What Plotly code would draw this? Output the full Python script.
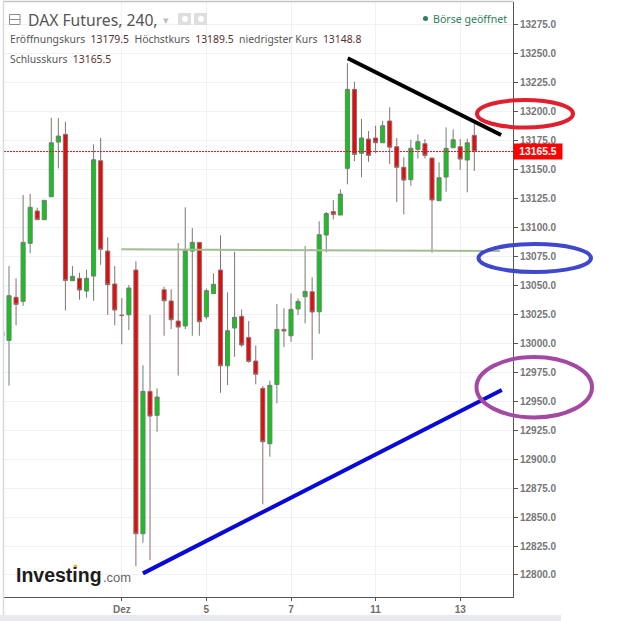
import plotly.graph_objects as go

candle_index = list(range(-1, 67))
open_ = [13009.7,13002.5,13039.7,13036.2,13086.3,13114.2,13106.7,13126.5,13173.7,13180.4,13054.0,13056.1,13045.1,13058.0,13157.6,13079.6,13051.2,13024.3,13024.6,13063.2,12835.6,12958.5,12937.8,13046.2,13036.5,13019.2,13014.9,13079.6,13087.1,13022.9,13042.8,13063.2,12980.6,13013.2,13023.3,13005.1,12984.7,12961.1,12913.3,12964.4,13012.0,13006.5,13029.6,13040.2,13044.5,13027.2,13093.4,13113.7,13110.7,13151.0,13219.2,13164.0,13176.3,13177.2,13173.1,13191.9,13169.7,13151.9,13141.2,13167.4,13172.3,13159.9,13123.1,13143.5,13168.8,13169.7,13158.2,13179.5]
high = [13012.0,13066.7,13056.1,13128.0,13129.0,13117.0,13123.4,13194.7,13194.4,13191.2,13066.7,13060.9,13063.5,13171.7,13177.4,13091.5,13066.7,13039.1,13050.3,13070.7,12981.0,13024.4,12961.1,13048.8,13046.6,13086.5,13117.4,13099.5,13087.1,13047.4,13060.4,13093.2,13044.0,13079.0,13029.3,13019.2,12998.2,12963.1,12967.7,13033.9,13030.2,13043.1,13038.8,13083.9,13056.9,13105.3,13113.3,13123.7,13132.9,13241.7,13225.8,13193.6,13183.2,13187.8,13192.1,13203.7,13177.2,13160.5,13175.7,13180.4,13176.3,13160.2,13156.2,13186.4,13184.7,13176.3,13176.6,13189.5]
low = [13004.0,12963.4,13015.5,13032.4,13077.9,13106.7,13106.7,13126.5,13151.0,13028.4,13054.0,13037.6,13039.3,13036.7,13067.8,13024.6,13015.5,12999.1,13011.4,12807.5,12827.8,12812.9,12923.7,13006.5,13012.3,12972.2,13012.3,13006.5,13006.5,13020.7,13042.8,12957.3,12964.0,12988.4,12997.0,12983.2,12964.6,12861.0,12902.1,12948.2,12996.8,13001.3,13024.4,13017.2,12985.8,13008.2,13078.5,13107.0,13110.7,13137.2,13157.3,13143.3,13156.7,13164.0,13173.1,13154.7,13121.9,13111.3,13136.0,13159.3,13159.6,13078.2,13123.1,13130.8,13168.8,13149.8,13130.3,13148.8]
close = [13006.3,13041.1,13033.6,13087.1,13117.4,13106.7,13123.4,13173.1,13178.9,13054.3,13057.8,13046.0,13056.1,13158.4,13081.1,13050.6,13028.7,13024.0,13047.7,12835.6,12958.5,12937.2,12953.6,13036.7,13020.3,13014.0,13079.9,13087.1,13018.6,13045.4,13050.9,12980.6,13010.8,13022.4,12998.5,12984.4,12973.2,12915.0,12963.7,13012.0,13010.6,13029.3,13036.2,13044.8,13027.0,13093.7,13112.0,13111.1,13128.8,13219.2,13163.1,13177.2,13162.2,13173.1,13187.8,13169.2,13151.9,13140.9,13168.3,13174.0,13162.2,13123.7,13142.9,13168.3,13175.7,13159.0,13173.1,13165.5]

last_price = 13165.5
last_price_x = [-0.71, 71.49]
x_tick_positions = [16, 28, 40, 52, 64]
x_tick_labels = ["Dez", "5", "7", "11", "13"]
y_ticks = [12800 + 25 * k for k in range(20)]

resistance_x, resistance_y = [48.05, 69.8], [13246.0, 13179.8]
support_x, support_y = [19.0, 69.9], [12801.4, 12959.7]
level_x, level_y = [15.93, 69.64], [13081.1, 13079.6]

L, R, T, B = 4, 513, 2, 597
W, H = 624, 621
FONT = "Liberation Sans"
def px(x): return (x - L) / (R - L)
def py(y): return (B - y) / (B - T)

fig = go.Figure()
fig.add_trace(go.Candlestick(
    x=candle_index, open=open_, high=high, low=low, close=close,
    increasing=dict(fillcolor="#12c41c", line=dict(color="#6f7f70", width=1)),
    decreasing=dict(fillcolor="#e00d0d", line=dict(color="#8a6f6f", width=1)),
    whiskerwidth=0, showlegend=False, hoverinfo="skip"))

for xs, ys, color, width, dash in [
    (last_price_x, [last_price, last_price], "#e8101c", 1, "2px,1px"),
    (level_x, level_y, "#a3bd93", 2, "solid"),
    (resistance_x, resistance_y, "#000000", 4, "solid"),
    (support_x, support_y, "#0808d8", 4, "solid"),
]:
    fig.add_trace(go.Scatter(x=xs, y=ys, mode="lines", showlegend=False, hoverinfo="skip",
                             line=dict(color=color, width=width, dash=dash)))

def rect(x0, y0, x1, y1, fill=None, line=None, lw=1, kind="rect"):
    return dict(type=kind, xref="paper", yref="paper", x0=px(x0), x1=px(x1), y0=py(y0), y1=py(y1),
                fillcolor=fill or "rgba(0,0,0,0)", line=dict(color=line or "rgba(0,0,0,0)", width=lw if line else 0),
                layer="above")

shapes = [
    rect(3, 1.5, 513, 1.5, line="#c4c4c4", lw=1.5, kind="line"),
    rect(3.5, 1.5, 3.5, 615, line="#d8dbe0", lw=1.5, kind="line"),
    rect(0, 615, 561, 621, fill="#e8eaee"),
    rect(9.5, 14.5, 20, 24.5, line="#8c8c8c", lw=1),
    rect(10, 19.5, 20, 19.5, line="#8c8c8c", lw=1, kind="line"),
    rect(178, 13, 191, 25, fill="#dedede"),
    rect(194, 13, 207, 25, fill="#dedede"),
    rect(182, 16, 188, 22, fill="#ffffff", kind="circle"),
    rect(198, 16, 204, 22, fill="#ffffff", kind="circle"),
    rect(477, 100, 573, 127.5, line="#e0202f", lw=4, kind="circle"),
    rect(478.5, 244, 591, 272, line="#3f48cc", lw=4, kind="circle"),
    rect(476.5, 357, 592, 417.5, line="#a349a4", lw=4, kind="circle"),
    rect(423, 16, 428, 21, fill="#2e7d5b", kind="circle"),
    rect(73.5, 564.5, 77.5, 568.5, fill="#f4b042", kind="circle"),
]

def note(x, y, text, size=11, color="#555555", family="Noto Sans", **kw):
    return dict(xref="paper", yref="paper", x=px(x), y=py(y), text=text, showarrow=False,
                xanchor=kw.pop("xanchor", "left"), yanchor="middle", borderpad=0,
                font=dict(family=family, size=size, color=color), **kw)

def val(v):
    return f'<span style="color:#5a2f2f">{v}</span>'

annotations = [
    note(27, 20, "DAX Futures, 240,", size=15.7, color="#555555"),
    note(162, 19.5, "▾", size=11, color="#c0c0c0"),
    note(9, 39, f"Eröffnungskurs  {val('13179.5')}  Höchstkurs  {val('13189.5')}  niedrigster Kurs  {val('13148.8')}", size=10.4),
    note(8.5, 59, f"Schlusskurs  {val('13165.5')}", size=10.4),
    note(432, 19, "Börse geöffnet", size=10.6, color="#2e7d5b"),
    note(15, 575, '<b>Investing</b>', size=19.5, color="#1c1c1c", family=FONT),
    note(102, 577, '.com', size=13, color="#666666", family=FONT),
    note(513, 151.5, "<b>13165.5</b>", size=10.3, color="#ffffff", family=FONT,
         bgcolor="#ff0000", width=48, height=15, align="center"),
]

fig.update_layout(
    width=W, height=H, autosize=False,
    margin=dict(l=L, r=W - R, t=T, b=H - B, pad=0),
    paper_bgcolor="#ffffff", plot_bgcolor="#ffffff",
    boxgap=0.42, boxgroupgap=0,
    shapes=shapes, annotations=annotations, showlegend=False,
    xaxis=dict(range=[-0.71, 71.49], rangeslider=dict(visible=False), tickmode="array",
               tickvals=x_tick_positions, ticktext=x_tick_labels, ticks="outside", ticklen=3,
               tickcolor="#555555", showline=True, linecolor="#555555", linewidth=1,
               showgrid=True, gridcolor="#f1f1f3", gridwidth=1, zeroline=False,
               tickfont=dict(family=FONT, size=10, color="#6e6e6e", weight=700)),
    yaxis=dict(range=[12781.0, 13294.6], side="right", tickmode="array", tickvals=y_ticks,
               tickformat=".1f", ticks="outside", ticklen=4, tickcolor="#555555",
               showline=True, linecolor="#555555", linewidth=1,
               showgrid=True, gridcolor="#f1f1f3", gridwidth=1, zeroline=False,
               tickfont=dict(family=FONT, size=10, color="#767676", weight=700)),
)

fig.write_html("out.html", config=dict(displayModeBar=False), post_script="document.body.style.margin='0';")
